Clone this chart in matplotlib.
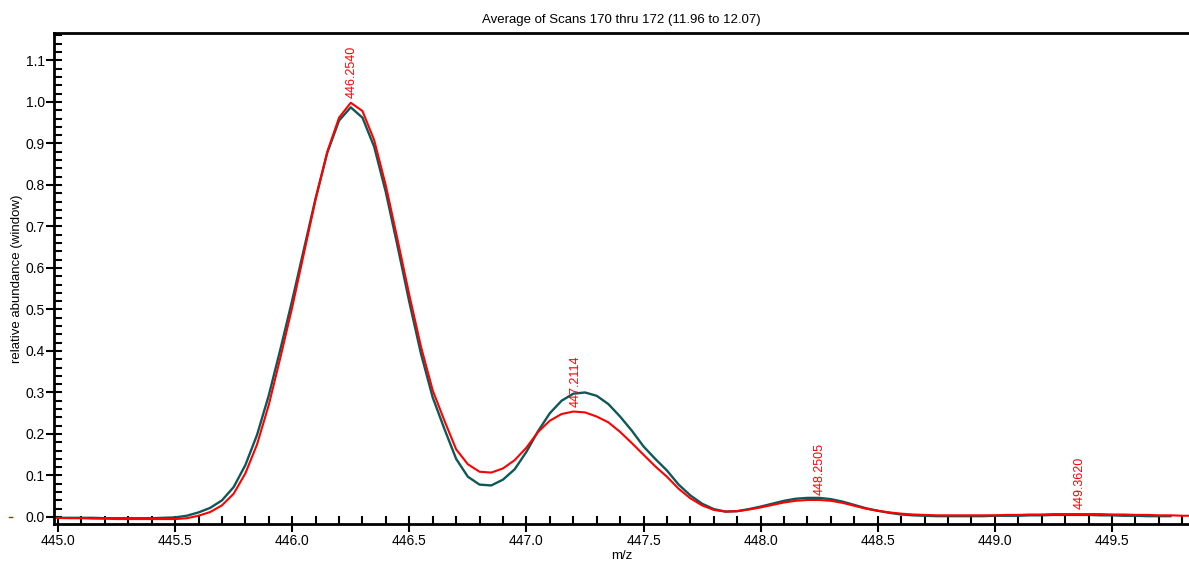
import matplotlib
matplotlib.use("Agg")
import matplotlib.pyplot as plt
from matplotlib.ticker import MultipleLocator
from matplotlib.lines import Line2D

plt.rcParams['font.family'] = ['Liberation Sans', 'DejaVu Sans']

mz_teal = [445.00, 445.05, 445.10, 445.15, 445.20, 445.25, 445.30, 445.35, 445.40, 445.45,
           445.50, 445.55, 445.60, 445.65, 445.70, 445.75, 445.80, 445.85, 445.90, 445.95,
           446.00, 446.05, 446.10, 446.15, 446.20, 446.25, 446.30, 446.35, 446.40, 446.45,
           446.50, 446.55, 446.60, 446.65, 446.70, 446.75, 446.80, 446.85, 446.90, 446.95,
           447.00, 447.05, 447.10, 447.15, 447.20, 447.25, 447.30, 447.35, 447.40, 447.45,
           447.50, 447.55, 447.60, 447.65, 447.70, 447.75, 447.80, 447.85, 447.90, 447.95,
           448.00, 448.05, 448.10, 448.15, 448.20, 448.25, 448.30, 448.35, 448.40, 448.45,
           448.50, 448.55, 448.60, 448.65, 448.70, 448.75, 448.80, 448.85, 448.90, 448.95,
           449.00, 449.05, 449.10, 449.15, 449.20, 449.25, 449.30, 449.35, 449.40, 449.45,
           449.50, 449.55, 449.60, 449.65, 449.70, 449.75]
abund_teal = [-0.002, -0.002, -0.002, -0.002, -0.003, -0.003, -0.003, -0.003, -0.003, -0.002,
              -0.001, 0.003, 0.011, 0.022, 0.040, 0.072, 0.125, 0.198, 0.293, 0.405,
              0.522, 0.645, 0.768, 0.878, 0.955, 0.987, 0.962, 0.892, 0.782, 0.652,
              0.518, 0.393, 0.288, 0.212, 0.140, 0.097, 0.078, 0.076, 0.090, 0.115,
              0.157, 0.207, 0.250, 0.280, 0.297, 0.300, 0.292, 0.272, 0.242, 0.208,
              0.170, 0.140, 0.112, 0.078, 0.052, 0.032, 0.019, 0.013, 0.014, 0.019,
              0.025, 0.032, 0.039, 0.044, 0.046, 0.046, 0.043, 0.037, 0.029, 0.021,
              0.015, 0.010, 0.006, 0.004, 0.003, 0.002, 0.002, 0.002, 0.002, 0.002,
              0.003, 0.003, 0.003, 0.004, 0.004, 0.005, 0.005, 0.005, 0.005, 0.004,
              0.004, 0.003, 0.003, 0.002, 0.002, 0.002]

mz_red = [444.98, 445.05, 445.10, 445.15, 445.20, 445.25, 445.30, 445.35, 445.40, 445.45,
          445.50, 445.55, 445.60, 445.65, 445.70, 445.75, 445.80, 445.85, 445.90, 445.95,
          446.00, 446.05, 446.10, 446.15, 446.20, 446.25, 446.30, 446.35, 446.40, 446.45,
          446.50, 446.55, 446.60, 446.65, 446.70, 446.75, 446.80, 446.85, 446.90, 446.95,
          447.00, 447.05, 447.10, 447.15, 447.20, 447.25, 447.30, 447.35, 447.40, 447.45,
          447.50, 447.55, 447.60, 447.65, 447.70, 447.75, 447.80, 447.85, 447.90, 447.95,
          448.00, 448.05, 448.10, 448.15, 448.20, 448.25, 448.30, 448.35, 448.40, 448.45,
          448.50, 448.55, 448.60, 448.65, 448.70, 448.75, 448.80, 448.85, 448.90, 448.95,
          449.00, 449.05, 449.10, 449.15, 449.20, 449.25, 449.30, 449.35, 449.40, 449.45,
          449.50, 449.55, 449.60, 449.65, 449.70, 449.75, 449.80, 449.85]
abund_red = [-0.002, -0.003, -0.003, -0.004, -0.004, -0.005, -0.005, -0.005, -0.005, -0.005,
             -0.005, -0.003, 0.003, 0.012, 0.028, 0.056, 0.105, 0.175, 0.270, 0.385,
             0.505, 0.635, 0.765, 0.880, 0.962, 0.998, 0.978, 0.908, 0.798, 0.668,
             0.535, 0.410, 0.305, 0.232, 0.163, 0.127, 0.109, 0.107, 0.117, 0.137,
             0.167, 0.205, 0.232, 0.248, 0.254, 0.252, 0.242, 0.228, 0.205, 0.178,
             0.150, 0.122, 0.097, 0.068, 0.045, 0.028, 0.017, 0.013, 0.014, 0.018,
             0.023, 0.029, 0.035, 0.039, 0.041, 0.041, 0.039, 0.034, 0.027, 0.020,
             0.015, 0.011, 0.008, 0.006, 0.005, 0.004, 0.004, 0.004, 0.004, 0.004,
             0.004, 0.005, 0.005, 0.006, 0.006, 0.007, 0.007, 0.007, 0.007, 0.007,
             0.006, 0.006, 0.005, 0.005, 0.004, 0.004, 0.003, 0.003]

peak_mz = [446.2540, 447.2114, 448.2505, 449.3620]
peak_abund = [0.998, 0.254, 0.041, 0.007]
peak_labels = ["446.2540", "447.2114", "448.2505", "449.3620"]

title = "Average of Scans 170 thru 172 (11.96 to 12.07)"
xlabel = "m/z"
ylabel = "relative abundance (window)"

W, H = 1189, 563
fig = plt.figure(figsize=(W / 100, H / 100), dpi=100)
ax = fig.add_axes([54 / W, 1 - 524 / H, 1 - 54 / W, (524 - 33) / H])

teal = "#0f5858"
red = "#ff0000"
ax.plot(mz_teal, abund_teal, color=teal, lw=1.7, solid_joinstyle='round')
ax.plot(mz_red, abund_red, color=red, lw=1.5, solid_joinstyle='round')

for x, y, s in zip(peak_mz, peak_abund, peak_labels):
    ax.annotate(s, xy=(x, y), xytext=(0, 3.5), textcoords='offset points',
                rotation=90, ha='center', va='bottom', color=red, fontsize=9)

ax.set_xlim(444.983, 449.829)
ax.set_ylim(-0.0169, 1.166)

ax.xaxis.set_major_locator(MultipleLocator(0.5))
ax.xaxis.set_minor_locator(MultipleLocator(0.1))
ax.yaxis.set_major_locator(MultipleLocator(0.1))
ax.yaxis.set_minor_locator(MultipleLocator(0.02))
ax.xaxis.set_major_formatter(plt.FuncFormatter(lambda v, p: f"{v:.1f}"))
ax.yaxis.set_major_formatter(plt.FuncFormatter(lambda v, p: f"{v:.1f}"))

ax.tick_params(axis='both', which='major', direction='inout', length=11, width=1.5,
               labelsize=10, colors='black')
ax.tick_params(axis='both', which='minor', direction='in', length=5.5, width=1.5)
ax.tick_params(axis='x', which='major', pad=2)
ax.tick_params(axis='y', which='major', pad=1)

ax.spines['right'].set_visible(False)
for sp in ['left', 'bottom', 'top']:
    ax.spines[sp].set_linewidth(2)

ax.set_title(title, fontsize=9.5, pad=7)
ax.set_xlabel(xlabel, fontsize=9.5, labelpad=1)
ax.set_ylabel(ylabel, fontsize=9.5, labelpad=2)

fig.lines.append(Line2D([9 / W, 12 / W], [1 - 517 / H, 1 - 517 / H],
                        transform=fig.transFigure, color=red, lw=1))

fig.savefig("out.png", dpi=100)
